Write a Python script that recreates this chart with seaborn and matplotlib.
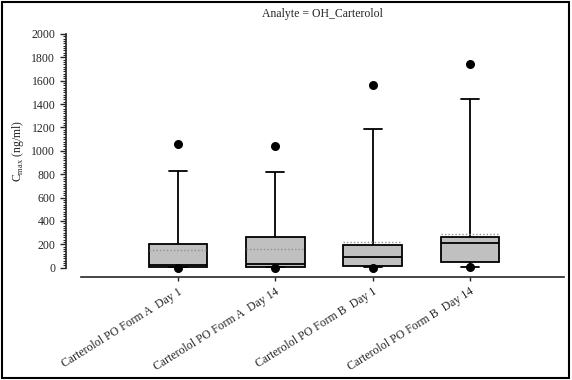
import numpy as np
import pandas as pd
import matplotlib
matplotlib.use("Agg")
import matplotlib.pyplot as plt
from matplotlib.ticker import MultipleLocator
from matplotlib.patches import Rectangle
import seaborn as sns

groups = ["Carterolol PO Form A  Day 1", "Carterolol PO Form A  Day 14",
          "Carterolol PO Form B  Day 1", "Carterolol PO Form B  Day 14"]
whis_lo = [3, 3, 2, 3]
q1 = [10, 8, 12, 45]
median = [20, 35, 94, 212]
q3 = [200, 266, 192, 266]
whis_hi = [829, 823, 1183, 1448]
means = [148, 160, 222, 286]
outlier_hi = [1060, 1043, 1565, 1745]
outlier_lo = [0, 0, 0, 2]

sns.set_style("ticks")
plt.rcParams['font.family'] = ['Liberation Serif', 'DejaVu Serif']
plt.rcParams['mathtext.fontset'] = 'custom'
plt.rcParams['mathtext.rm'] = 'Liberation Serif'

# five points per group -> box/whiskers land exactly on the read values
rows = []
for i, g in enumerate(groups):
    for v in [whis_lo[i], q1[i], median[i], q3[i], whis_hi[i]]:
        rows.append({"group": g, "value": v})
df = pd.DataFrame(rows)

out = pd.DataFrame({"group": groups * 2, "value": outlier_hi + outlier_lo})

fig = plt.figure(figsize=(5.72, 3.8), dpi=100)
ax = fig.add_axes([81/572, (380-267.7)/380, (564-81)/572, (267.7-34)/380])

sns.boxplot(data=df, x="group", y="value", order=groups, whis=(0, 100),
            width=0.6, color="#c0c0c0", linecolor="black", linewidth=1.3,
            showfliers=False, saturation=1, ax=ax)

# narrower caps like the original
for cont in ax.containers:
    caps = getattr(cont, "caps", None)
    if caps is None:
        continue
    for cap in caps:
        xd = np.asarray(cap.get_xdata(), dtype=float)
        mid = xd.mean()
        cap.set_xdata(mid + (xd - mid) * 0.62)

pos = np.arange(len(groups))
ax.hlines(means, pos - 0.3, pos + 0.3, colors="#909090", linestyles=(0, (1, 1.5)),
          linewidth=1, zorder=5)

sns.stripplot(data=out, x="group", y="value", order=groups, jitter=False,
              color="black", size=6.5, ax=ax, zorder=6)
for c in ax.collections:
    c.set_clip_on(False)

ax.set_ylim(0, 2000)
ax.set_xlim(-1, 3.97)
ax.yaxis.set_major_locator(MultipleLocator(200))
ax.yaxis.set_minor_locator(MultipleLocator(20))
ax.tick_params(axis="y", which="major", length=4, width=1, labelsize=8.5)
ax.tick_params(axis="y", which="minor", length=2.5, width=0.8)
ax.tick_params(axis="x", length=3, width=1, labelsize=8.5, labelrotation=32)

sns.despine(ax=ax)
ax.spines["left"].set_position(("outward", 11))
ax.spines["bottom"].set_position(("outward", 6.5))
ax.spines["left"].set_linewidth(1.2)
ax.spines["bottom"].set_linewidth(1.2)

ax.set_xlabel("")
ax.set_ylabel(r"C$_{\mathrm{max}}$ (ng/ml)", fontsize=8.5)
ax.set_title("Analyte = OH_Carterolol", fontsize=8.5, pad=12)

fig.patches.append(Rectangle((0.004, 0.005), 0.991, 0.99, transform=fig.transFigure,
                             fill=False, edgecolor="black", linewidth=1.5))

fig.canvas.draw()
for lab in ax.get_xticklabels():
    lab.set_ha("right")
    lab.set_rotation_mode("anchor")

fig.savefig("out.png", dpi=100)
